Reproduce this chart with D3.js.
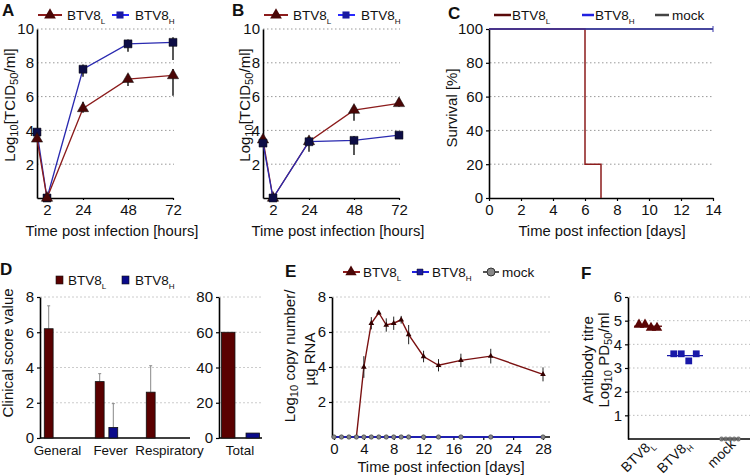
<!DOCTYPE html>
<html><head><meta charset="utf-8">
<script src="https://cdn.jsdelivr.net/npm/d3@7/dist/d3.min.js"></script>
<style>
body{margin:0;background:#fff}
text{font-family:"Liberation Sans",Arial,Helvetica,sans-serif;fill:#111}
</style>
</head><body>
<svg id="c" width="750" height="476"></svg>
<script>
// ---------------- DATA ----------------
// Panels A/B: virus titre, hours post infection
const hours = [0, 2, 24, 48, 72];
const hourTicks = [2, 24, 48, 72];
const titreTicks = [2, 4, 6, 8, 10];
const A_L = [3.5, 0, 5.3, 7.03, 7.25];
const A_L_up = [0, 0, 0.4, 0.3, 0.38];
const A_L_dn = [0, 0, 0.25, 0.4, 1.2];
const A_H = [3.9, 0, 7.62, 9.12, 9.21];
const A_H_up = [0, 0, 0.28, 0.26, 0.3];
const A_H_dn = [0, 0, 0.45, 0.46, 1.04];
const B_L = [3.45, 0, 3.35, 5.2, 5.6];
const B_L_up = [0, 0, 0.15, 0.24, 0.2];
const B_L_dn = [0, 0, 0.15, 0.63, 0.2];
const B_H = [3.25, 0, 3.33, 3.41, 3.72];
const B_H_up = [0, 0, 0.3, 0.26, 0.05];
const B_H_dn = [0, 0, 0.6, 0.87, 0.05];
// Panel C: survival
const survL_days = [0, 6, 7];
const survL_pct = [100, 20, 0];
const survH_days = [0, 14];
const survH_pct = [100, 100];
const survM_days = [0, 14];
const survM_pct = [100, 100];
const survXTicks = [0, 2, 4, 6, 8, 10, 12, 14];
const survYTicks = [0, 20, 40, 60, 80, 100];
// Panel D: clinical score
const scoreCats = ["General", "Fever", "Respiratory"];
const score_L = [6.2, 3.2, 2.6];
const score_L_err = [1.3, 0.45, 1.5];
const score_H = [0, 0.6, 0];
const score_H_err = [0, 1.35, 0];
const scoreTicks = [0, 2, 4, 6, 8];
const total_L = 60, total_H = 2.8;
const totalTicks = [0, 20, 40, 60, 80];
// Panel E: viraemia
const eDays = [0, 1, 2, 3, 4, 5, 6, 7, 8, 9, 10, 12, 14, 17, 21, 28];
const E_L = [0, 0, 0, 0, 4.0, 6.5, 7.1, 6.4, 6.5, 6.7, 5.85, 4.6, 4.1, 4.38, 4.62, 3.58];
const E_L_err = [0, 0, 0, 0, 0.62, 0.35, 0.1, 0.38, 0.38, 0.22, 0.55, 0.33, 0.35, 0.38, 0.42, 0.4];
const E_H = [0, 0, 0, 0, 0, 0, 0, 0, 0, 0, 0, 0, 0, 0, 0, 0];
const E_M = [0, 0, 0, 0, 0, 0, 0, 0, 0, 0, 0, 0, 0, 0, 0, 0];
const eXTicks = [0, 4, 8, 12, 16, 20, 24, 28];
const eYTicks = [2, 4, 6, 8];
// Panel F: antibody titre
const fGroups = ["L", "H", "mock"];
const F_L = [4.83, 4.83, 4.7, 4.7];
const F_H = [3.6, 3.6, 3.3, 3.6];
const F_M = [0, 0, 0, 0, 0];
const fYTicks = [1, 2, 3, 4, 5, 6];

// ---------------- STYLE ----------------
const RED = "#8c1c1c", DRED = "#4a0606", BLUE = "#2a2ab0", NAVY = "#0d0d45";
const BARRED = "#5a0000", BARBLUE = "#0a0a8a";
const TICK = 15, TITLE = 14.8, LEG = 13.5, YLAB = 15, CAT = 13.4;
const svg = d3.select("#c");

function rich(g, parts, attrs, base) {
  const t = g.append("text");
  for (const k in attrs) t.attr(k, attrs[k]);
  t.attr("font-size", base);
  let shift = 0;
  parts.forEach(p => {
    if (typeof p === "string") {
      const ts = t.append("tspan").text(p);
      if (shift) { ts.attr("dy", -shift); shift = 0; }
    } else {
      const d = base * (p.d || 0.22);
      t.append("tspan").attr("font-size", base * (p.f || 0.7)).attr("dy", d).text(p.s);
      shift = d;
    }
  });
  return t;
}
function letter(x, y, s) {
  svg.append("text").attr("x", x).attr("y", y).attr("font-size", 17).attr("font-weight", "bold").text(s);
}
function styleAxis(g, fs) {
  g.select(".domain").attr("stroke", "#000").attr("stroke-width", 1.6);
  g.selectAll(".tick line").attr("stroke", "#000").attr("stroke-width", 1.2);
  g.selectAll(".tick text").attr("font-size", fs || TICK).attr("fill", "#111")
    .attr("font-family", '"Liberation Sans",Arial,sans-serif');
}
function grid(yScale, vals, x0, x1, dash, col) {
  svg.append("g").selectAll("line").data(vals).join("line")
    .attr("x1", x0).attr("x2", x1).attr("y1", d => yScale(d)).attr("y2", d => yScale(d))
    .attr("stroke", col || "#aaa").attr("stroke-width", 1).attr("stroke-dasharray", dash || "1,2");
}
const tri = d3.symbol().type(d3.symbolTriangle);
const sq = d3.symbol().type(d3.symbolSquare);
const subL = {s: "L", f: 0.6, d: 0.3}, subH = {s: "H", f: 0.6, d: 0.3};
const sub10 = {s: "10", f: 0.75, d: 0.2}, sub50 = {s: "50", f: 0.75, d: 0.2};

// ---------------- PANELS A & B ----------------
function titrePanel(x0, L, Lup, Ldn, H, Hup, Hdn, hOnTop) {
  const x = d3.scaleLinear().domain(hours).range([0, 10, 46, 91, 136].map(v => x0 + v));
  const y = d3.scaleLinear().domain([0, 10]).range([198, 29]);
  grid(y, [2, 4, 6, 8, 10], x0, x0 + 137, "1.5,2.5", "#999");
  const ya = svg.append("g").attr("transform", `translate(${x0},0)`)
    .call(d3.axisLeft(y).tickValues(titreTicks).tickSize(0).tickPadding(3));
  styleAxis(ya);
  const xa = svg.append("g").attr("transform", "translate(0,198)")
    .call(d3.axisBottom(x).tickValues(hourTicks).tickSize(2).tickSizeOuter(0).tickPadding(4));
  styleAxis(xa);
  const series = [
    {v: L, up: Lup, dn: Ldn, line: RED, fill: DRED, sym: tri.size(55)},
    {v: H, up: Hup, dn: Hdn, line: BLUE, fill: NAVY, sym: sq.size(64)}
  ];
  const order = hOnTop ? series : series.slice().reverse();
  order.forEach(s => {
    const g = svg.append("g");
    g.append("path").datum(hours.map((h, i) => [x(h), y(s.v[i])]))
      .attr("d", d3.line()).attr("fill", "none").attr("stroke", s.line).attr("stroke-width", 1.3);
    g.selectAll(".e").data(hours).join("line")
      .attr("x1", d => x(d)).attr("x2", d => x(d))
      .attr("y1", (d, i) => y(s.v[i] + s.up[i])).attr("y2", (d, i) => y(s.v[i] - s.dn[i]))
      .attr("stroke", "#111").attr("stroke-width", 1.4);
    g.selectAll(".m").data(hours).join("path")
      .attr("transform", (d, i) => `translate(${x(d)},${y(s.v[i])})`)
      .attr("d", s.sym()).attr("fill", s.fill).attr("stroke", "#111").attr("stroke-width", 0.5);
  });
  svg.append("text").attr("x", x0 + 75).attr("y", 236).attr("text-anchor", "middle")
    .attr("font-size", TITLE).text("Time post infection [hours]");
  const ly = 15;
  const lg = svg.append("g");
  lg.append("line").attr("x1", x0 + 1).attr("x2", x0 + 25).attr("y1", ly).attr("y2", ly).attr("stroke", RED).attr("stroke-width", 2);
  lg.append("path").attr("transform", `translate(${x0 + 13},${ly})`).attr("d", tri.size(60)()).attr("fill", DRED);
  rich(lg, ["BTV8", subL], {x: x0 + 30, y: ly + 5}, LEG);
  lg.append("line").attr("x1", x0 + 75).attr("x2", x0 + 92).attr("y1", ly).attr("y2", ly).attr("stroke", "#2a2aff").attr("stroke-width", 2);
  lg.append("path").attr("transform", `translate(${x0 + 83},${ly})`).attr("d", sq.size(50)()).attr("fill", "#1a1aa0");
  rich(lg, ["BTV8", subH], {x: x0 + 98, y: ly + 5}, LEG);
}
titrePanel(37, A_L, A_L_up, A_L_dn, A_H, A_H_up, A_H_dn, false);
titrePanel(263, B_L, B_L_up, B_L_dn, B_H, B_H_up, B_H_dn, true);
letter(2, 16, "A");
letter(232, 16, "B");
function titreYLabel(cx) {
  rich(svg, ["Log", sub10, "[TCID", sub50, "/ml]"],
    {transform: `translate(${cx},105) rotate(-90)`, "text-anchor": "middle", dy: "0.35em"}, YLAB);
}
titreYLabel(10);
titreYLabel(245);

// ---------------- PANEL C ----------------
(function () {
  const x = d3.scaleLinear().domain([0, 14]).range([489, 713]);
  const y = d3.scaleLinear().domain([0, 100]).range([198, 29]);
  grid(y, [20, 40, 60, 80], 490, 712, "1.5,2.5", "#999");
  styleAxis(svg.append("g").attr("transform", "translate(489,0)")
    .call(d3.axisLeft(y).tickValues(survYTicks).tickSize(3).tickSizeOuter(0).tickPadding(3)));
  styleAxis(svg.append("g").attr("transform", "translate(0,198)")
    .call(d3.axisBottom(x).tickValues(survXTicks).tickSize(3).tickSizeOuter(0).tickPadding(3)));
  const step = (days, pct) => d3.line().curve(d3.curveStepAfter)(
    days.concat([days[days.length - 1]]).map((d, i) => [x(d), y(i < pct.length ? pct[i] : pct[pct.length - 1])]));
  svg.append("path").attr("d", step(survM_days, survM_pct)).attr("fill", "none").attr("stroke", "#555").attr("stroke-width", 1.5);
  svg.append("path").attr("d", step(survL_days, survL_pct)).attr("fill", "none").attr("stroke", RED).attr("stroke-width", 1.5);
  svg.append("path").attr("d", step(survH_days, survH_pct)).attr("fill", "none").attr("stroke", "#3535a8").attr("stroke-width", 1.3);
  svg.append("line").attr("x1", x(14)).attr("x2", x(14)).attr("y1", y(100) - 3).attr("y2", y(100) + 3).attr("stroke", "#3535a8");
  svg.append("text").attr("x", 602).attr("y", 236).attr("text-anchor", "middle").attr("font-size", TITLE).text("Time post infection [days]");
  svg.append("text").attr("transform", "translate(452,108) rotate(-90)").attr("text-anchor", "middle").attr("dy", "0.35em")
    .attr("font-size", YLAB).text("Survival [%]");
  const ly = 15, lg = svg.append("g");
  lg.append("line").attr("x1", 494).attr("x2", 511).attr("y1", ly).attr("y2", ly).attr("stroke", "#5a0a0a").attr("stroke-width", 2.5);
  rich(lg, ["BTV8", subL], {x: 512, y: ly + 5}, LEG);
  lg.append("line").attr("x1", 582).attr("x2", 594).attr("y1", ly).attr("y2", ly).attr("stroke", "#2020e0").attr("stroke-width", 2.5);
  rich(lg, ["BTV8", subH], {x: 595, y: ly + 5}, LEG);
  lg.append("line").attr("x1", 655).attr("x2", 669).attr("y1", ly).attr("y2", ly).attr("stroke", "#444").attr("stroke-width", 2.5);
  lg.append("text").attr("x", 672).attr("y", ly + 5).attr("font-size", LEG).text("mock");
  letter(448, 19, "C");
})();

// ---------------- PANEL D ----------------
(function () {
  const y = d3.scaleLinear().domain([0, 8]).range([438, 297]);
  const x = d3.scaleBand().domain(scoreCats).range([30, 183]).paddingInner(0).paddingOuter(0);
  const sub = d3.scaleBand().domain(["L", "H"]).range([0, x.bandwidth()]).paddingInner(0.35).paddingOuter(1.05);
  grid(y, [2, 4, 6, 8], 40, 190, "2,2", "#ccc");
  styleAxis(svg.append("g").attr("transform", "translate(40,0)")
    .call(d3.axisLeft(y).tickValues(scoreTicks).tickSize(3).tickSizeOuter(0).tickPadding(3)));
  svg.append("line").attr("x1", 40).attr("x2", 190).attr("y1", 438).attr("y2", 438).attr("stroke", "#000").attr("stroke-width", 1.6);
  scoreCats.forEach((c, i) => {
    [["L", score_L[i], score_L_err[i], BARRED], ["H", score_H[i], score_H_err[i], BARBLUE]].forEach(([k, v, e, col]) => {
      const bx = x(c) + sub(k);
      if (e > 0) {
        svg.append("line").attr("x1", bx + sub.bandwidth() / 2).attr("x2", bx + sub.bandwidth() / 2)
          .attr("y1", y(v)).attr("y2", y(v + e)).attr("stroke", "#888").attr("stroke-width", 1);
        svg.append("line").attr("x1", bx + sub.bandwidth() / 2 - 1.5).attr("x2", bx + sub.bandwidth() / 2 + 1.5)
          .attr("y1", y(v + e)).attr("y2", y(v + e)).attr("stroke", "#888").attr("stroke-width", 1);
      }
      if (v > 0) svg.append("rect").attr("x", bx).attr("y", y(v)).attr("width", sub.bandwidth()).attr("height", y(0) - y(v))
        .attr("fill", col).attr("stroke", "#111").attr("stroke-width", 0.8);
    });
    svg.append("text").attr("x", x(c) + x.bandwidth() / 2 + [2, 4, 12][i]).attr("y", 455).attr("text-anchor", "middle")
      .attr("font-size", CAT).text(c);
  });
  const y2 = d3.scaleLinear().domain([0, 80]).range([438, 297]);
  grid(y2, [20, 40, 60, 80], 219, 262, "2,2", "#ccc");
  styleAxis(svg.append("g").attr("transform", "translate(219,0)")
    .call(d3.axisLeft(y2).tickValues(totalTicks).tickSize(3).tickSizeOuter(0).tickPadding(3)));
  svg.append("line").attr("x1", 219).attr("x2", 262).attr("y1", 438).attr("y2", 438).attr("stroke", "#000").attr("stroke-width", 1.6);
  const tx = d3.scaleBand().domain(["L", "H"]).range([219, 262]).paddingInner(0.45).paddingOuter(0.1);
  [["L", total_L, BARRED], ["H", total_H, BARBLUE]].forEach(([k, v, col]) => {
    svg.append("rect").attr("x", tx(k)).attr("y", y2(v)).attr("width", tx.bandwidth()).attr("height", y2(0) - y2(v))
      .attr("fill", col).attr("stroke", "#111").attr("stroke-width", 0.8);
  });
  svg.append("text").attr("x", 240).attr("y", 455).attr("text-anchor", "middle").attr("font-size", CAT).text("Total");
  svg.append("text").attr("transform", "translate(8,353) rotate(-90)").attr("text-anchor", "middle").attr("dy", "0.35em")
    .attr("font-size", YLAB).text("Clinical score value");
  const ly = 280, lg = svg.append("g");
  lg.append("rect").attr("x", 56).attr("y", ly - 4).attr("width", 7).attr("height", 8).attr("fill", BARRED).attr("stroke", "#111").attr("stroke-width", 0.6);
  rich(lg, ["BTV8", subL], {x: 68, y: ly + 5}, LEG);
  lg.append("rect").attr("x", 122).attr("y", ly - 4).attr("width", 7).attr("height", 8).attr("fill", BARBLUE).attr("stroke", "#111").attr("stroke-width", 0.6);
  rich(lg, ["BTV8", subH], {x: 135, y: ly + 5}, LEG);
  letter(0, 275, "D");
})();

// ---------------- PANEL E ----------------
(function () {
  const x = d3.scaleLinear().domain([0, 28]).range([334, 543]);
  const y = d3.scaleLinear().domain([0, 8]).range([437, 297]);
  grid(y, [2, 4, 6, 8], 332, 550, "2,2", "#ccc");
  styleAxis(svg.append("g").attr("transform", "translate(332,0)")
    .call(d3.axisLeft(y).tickValues(eYTicks).tickSize(3).tickSizeOuter(0).tickPadding(3)));
  const xa = svg.append("g").attr("transform", "translate(0,437)")
    .call(d3.axisBottom(x).tickValues(eXTicks).tickSize(3).tickSizeOuter(0).tickPadding(3));
  xa.select(".domain").attr("d", "M332,0H550");
  styleAxis(xa);
  svg.append("path").datum(eDays.map((d, i) => [x(d), y(E_L[i])]).filter((p, i) => eDays[i] >= 3))
    .attr("d", d3.line()).attr("fill", "none").attr("stroke", "#7a1010").attr("stroke-width", 1.4);
  svg.append("g").selectAll("line").data(eDays).join("line")
    .attr("x1", d => x(d)).attr("x2", d => x(d))
    .attr("y1", (d, i) => y(E_L[i] + E_L_err[i])).attr("y2", (d, i) => y(E_L[i] - E_L_err[i]))
    .attr("stroke", "#222").attr("stroke-width", 1);
  svg.append("g").selectAll("path").data(eDays.filter((d, i) => E_L[i] > 0)).join("path")
    .attr("transform", d => `translate(${x(d)},${y(E_L[eDays.indexOf(d)])})`)
    .attr("d", tri.size(14)()).attr("fill", "#300");
  svg.append("path").datum(eDays.map((d, i) => [x(d), y(E_H[i])]))
    .attr("d", d3.line()).attr("fill", "none").attr("stroke", "#1515d8").attr("stroke-width", 1.6);
  svg.append("g").selectAll("circle").data(eDays).join("circle")
    .attr("cx", d => x(d)).attr("cy", (d, i) => y(E_M[i])).attr("r", 2.2)
    .attr("fill", "#888").attr("stroke", "#333").attr("stroke-width", 0.6);
  svg.append("text").attr("x", 441).attr("y", 472).attr("text-anchor", "middle").attr("font-size", TITLE).text("Time post infection [days]");
  rich(svg, ["Log", sub10, " copy number/"],
    {transform: "translate(290,356) rotate(-90)", "text-anchor": "middle", dy: "0.35em"}, YLAB);
  svg.append("text").attr("transform", "translate(310,359) rotate(-90)").attr("text-anchor", "middle").attr("dy", "0.35em")
    .attr("font-size", YLAB).text("µg RNA");
  const ly = 272, lg = svg.append("g");
  lg.append("line").attr("x1", 343).attr("x2", 360).attr("y1", ly).attr("y2", ly).attr("stroke", RED).attr("stroke-width", 2);
  lg.append("path").attr("transform", `translate(351,${ly})`).attr("d", tri.size(55)()).attr("fill", DRED);
  rich(lg, ["BTV8", subL], {x: 363, y: ly + 5}, LEG);
  lg.append("line").attr("x1", 412).attr("x2", 429).attr("y1", ly).attr("y2", ly).attr("stroke", "#2020e0").attr("stroke-width", 2);
  lg.append("path").attr("transform", `translate(420,${ly})`).attr("d", sq.size(36)()).attr("fill", "#1a1aa0").attr("stroke", "#111").attr("stroke-width", 0.5);
  rich(lg, ["BTV8", subH], {x: 432, y: ly + 5}, LEG);
  lg.append("line").attr("x1", 483).attr("x2", 499).attr("y1", ly).attr("y2", ly).attr("stroke", "#555").attr("stroke-width", 2);
  lg.append("circle").attr("cx", 491).attr("cy", ly).attr("r", 4).attr("fill", "#888").attr("stroke", "#333");
  lg.append("text").attr("x", 502).attr("y", ly + 5).attr("font-size", LEG).text("mock");
  letter(285, 277, "E");
})();

// ---------------- PANEL F ----------------
(function () {
  const y = d3.scaleLinear().domain([0, 6]).range([439, 297]);
  const x = d3.scalePoint().domain(fGroups).range([648, 730]);
  grid(y, fYTicks, 629, 750, "1.5,2.5", "#bbb");
  styleAxis(svg.append("g").attr("transform", "translate(628,0)")
    .call(d3.axisLeft(y).tickValues(fYTicks).tickFormat(d3.format("d")).tickSize(3).tickSizeOuter(0).tickPadding(3)));
  svg.append("line").attr("x1", 628).attr("x2", 750).attr("y1", 439).attr("y2", 439).attr("stroke", "#000").attr("stroke-width", 1.6);
  const sets = [
    {k: "L", v: F_L, sym: tri.size(48), fill: "#5a0505", line: "#5a0505", w: 6, hw: 14},
    {k: "H", v: F_H, sym: sq.size(46), fill: "#1818a8", line: "#1818a8", w: 7.5, hw: 18},
    {k: "mock", v: F_M, sym: null, fill: "#888", line: "#555", w: 4.2, hw: 9}
  ];
  sets.forEach(s => {
    const cx = x(s.k) + (s.k === "H" ? -4 : 0);
    const n = s.v.length;
    const mean = d3.mean(s.v);
    svg.append("g").selectAll("path").data(s.v).join(s.sym ? "path" : "circle")
      .each(function (d, i) {
        const px = cx + (i - (n - 1) / 2) * s.w;
        const sel = d3.select(this);
        if (s.sym) sel.attr("transform", `translate(${px},${y(d)})`).attr("d", s.sym()).attr("fill", s.fill);
        else sel.attr("cx", px).attr("cy", y(d)).attr("r", 2.1).attr("fill", s.fill).attr("stroke", "#444").attr("stroke-width", 0.6);
      });
    svg.append("line").attr("x1", cx - s.hw).attr("x2", cx + s.hw).attr("y1", y(mean)).attr("y2", y(mean))
      .attr("stroke", s.line).attr("stroke-width", 1.3);
    const lab = s.k === "mock" ? ["mock"] : ["BTV8", s.k === "L" ? subL : subH];
    rich(svg, lab, {transform: `translate(${cx + 3},${442}) rotate(-45)`, "text-anchor": "end", dy: "0.35em"}, 13.8);
  });
  rich(svg, ["Antibody titre"], {transform: "translate(588,360) rotate(-90)", "text-anchor": "middle", dy: "0.35em"}, YLAB);
  rich(svg, ["Log", sub10, " PD", sub50, "/ml"],
    {transform: "translate(604,360) rotate(-90)", "text-anchor": "middle", dy: "0.35em"}, YLAB);
  letter(581, 279, "F");
})();
</script>
</body></html>
